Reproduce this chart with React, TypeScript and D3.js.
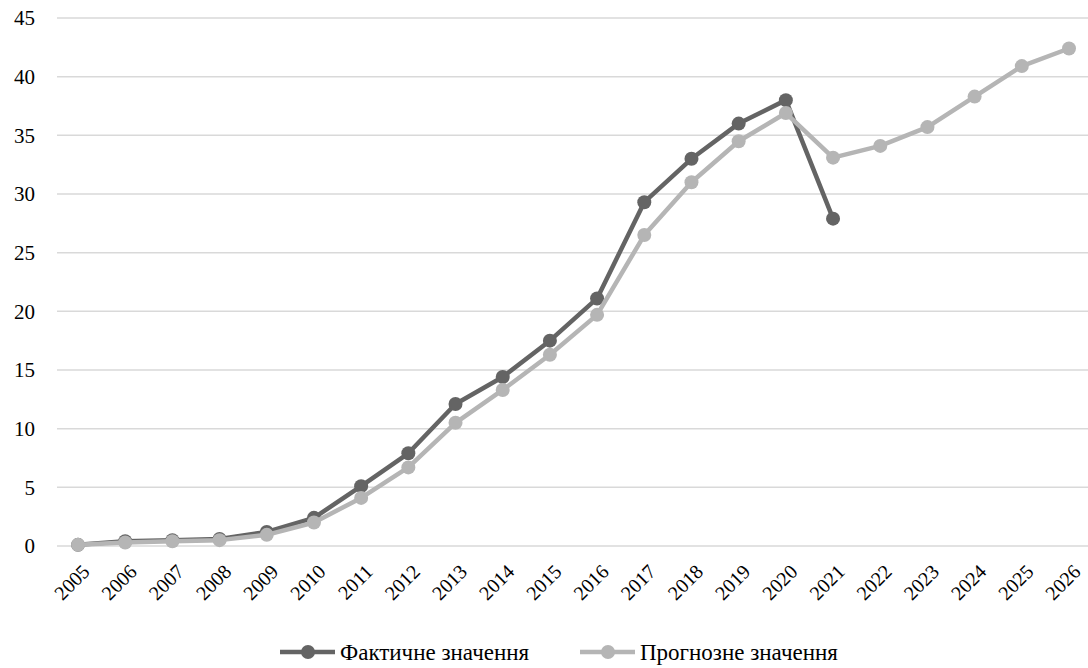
import React from "react";
import * as d3 from "d3";

const years = [2005,2006,2007,2008,2009,2010,2011,2012,2013,2014,2015,2016,2017,2018,2019,2020,2021,2022,2023,2024,2025,2026];
const actual: (number|null)[] = [0.1,0.4,0.5,0.6,1.2,2.4,5.1,7.9,12.1,14.4,17.5,21.1,29.3,33.0,36.0,38.0,27.9,null,null,null,null,null];
const forecast: number[] = [0.1,0.3,0.4,0.5,0.95,2.0,4.1,6.7,10.5,13.3,16.3,19.7,26.5,31.0,34.5,36.9,33.1,34.1,35.7,38.3,40.9,42.4];
const yTicks = [0,5,10,15,20,25,30,35,40,45];
const seriesNames = ["Фактичне значення", "Прогнозне значення"];
const colors = ["#646464", "#b5b5b5"];

const W = 1088, H = 668;
const font = "Liberation Serif, Times New Roman, DejaVu Serif, serif";

export default function App() {
  const x = d3.scalePoint<number>().domain(years).range([78, 1069]);
  const y = d3.scaleLinear().domain([0, 45]).range([546, 18]);
  const line = d3.line<[number, number|null]>()
    .defined(d => d[1] != null)
    .x(d => x(d[0])!)
    .y(d => y(d[1] as number));
  const series = [actual, forecast];
  const legendX = [280, 580];
  return (
    <svg width={W} height={H} style={{ position: "absolute", left: 0, top: 0, background: "#fff", fontFamily: font }}>
      {yTicks.map(t => (
        <g key={t}>
          <line x1={57} x2={1088} y1={y(t)} y2={y(t)} stroke="#d9d9d9" strokeWidth={1.5} />
          <text x={35} y={y(t)} dy="0.35em" textAnchor="end" style={{ fontFamily: font, fontSize: 21 }} fill="#000">{t}</text>
        </g>
      ))}
      {years.map(yr => (
        <text key={yr} transform={`translate(${x(yr)! + 3},${563}) rotate(-45)`} textAnchor="end" dy="0.7em"
          style={{ fontFamily: font, fontSize: 20 }} fill="#000">{yr}</text>
      ))}
      {series.map((s, i) => (
        <g key={i}>
          <path d={line(years.map((yr, j) => [yr, s[j]] as [number, number|null])) || ""} fill="none"
            stroke={colors[i]} strokeWidth={4.5} strokeLinejoin="round" />
          {years.map((yr, j) => s[j] == null ? null : (
            <circle key={yr} cx={x(yr)} cy={y(s[j] as number)} r={7} fill={colors[i]} />
          ))}
        </g>
      ))}
      {seriesNames.map((n, i) => {
        const lx = legendX[i];
        return (
          <g key={n}>
            <line x1={lx} x2={lx + 55} y1={652} y2={652} stroke={colors[i]} strokeWidth={4.5} />
            <circle cx={lx + 28} cy={652} r={7} fill={colors[i]} />
            <text x={lx + 60} y={652} dy="0.35em" style={{ fontFamily: font, fontSize: 23 }} fill="#000">{n}</text>
          </g>
        );
      })}
    </svg>
  );
}
